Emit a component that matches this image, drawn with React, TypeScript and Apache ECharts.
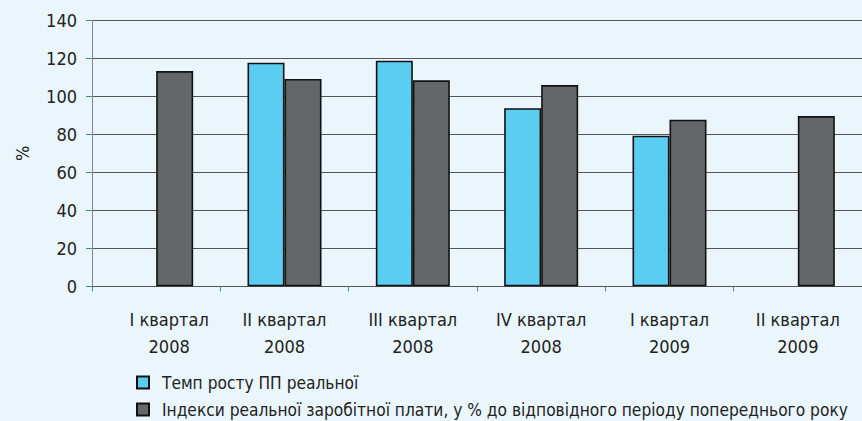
import React, { useEffect, useRef } from "react";
import * as echarts from "echarts";

const categories = [
  "I квартал\n2008",
  "II квартал\n2008",
  "III квартал\n2008",
  "IV квартал\n2008",
  "I квартал\n2009",
  "II квартал\n2009",
];
const growthPP = [null, 117.7, 118.7, 93.7, 79.3, null];
const wageIndex = [113.3, 109.1, 108.4, 105.9, 87.7, 89.6];
const seriesNames = [
  "Темп росту ПП реальної",
  "Індекси реальної заробітної плати, у % до відповідного періоду попереднього року",
];
const yTicks = { min: 0, max: 140, interval: 20 };

const FONT = '"DejaVu Sans Condensed", "Liberation Sans Narrow", sans-serif';

export default function App() {
  const ref = useRef<HTMLDivElement>(null);
  useEffect(() => {
    if (!ref.current) return;
    const chart = echarts.init(ref.current, null, { renderer: "svg" });
    const legendBase = {
      orient: "horizontal",
      left: 136,
      padding: 0,
      itemWidth: 12,
      itemHeight: 12,
      itemGap: 0,
      icon: "rect",
      textStyle: { fontFamily: FONT, fontSize: 17.2, color: "#222", padding: [0, 0, 0, 8] },
    };
    const labelStyle = { fontFamily: FONT, fontSize: 18, lineHeight: 27, color: "#222" };
    chart.setOption({
      animation: false,
      backgroundColor: "#EAF6FC",
      textStyle: { fontFamily: FONT },
      grid: { left: 92, top: 20.3, width: 776, height: 266 },
      legend: [
        { ...legendBase, top: 374, data: [seriesNames[0]] },
        { ...legendBase, top: 401, data: [seriesNames[1]] },
      ],
      xAxis: {
        type: "category",
        data: categories,
        axisLine: { lineStyle: { color: "#555", width: 1 } },
        axisTick: { show: true, length: 5, lineStyle: { color: "#3C8A9A" } },
        axisLabel: {
          ...labelStyle,
          margin: 20,
          interval: 0,
          formatter: (value: string, index: number) =>
            index === 0
              ? value
                  .split("\n")
                  .map((l) => `{first|${l}}`)
                  .join("\n")
              : value,
          rich: {
            first: { ...labelStyle, padding: [0, 0, 0, 26] },
          },
        },
      },
      yAxis: {
        type: "value",
        min: yTicks.min,
        max: yTicks.max,
        interval: yTicks.interval,
        name: "%",
        nameLocation: "middle",
        nameRotate: 90,
        nameGap: 61,
        nameTextStyle: { fontFamily: FONT, fontSize: 18, color: "#222" },
        axisLine: { show: true, lineStyle: { color: "#888", width: 1 } },
        axisTick: { show: true, length: 6, lineStyle: { color: "#3C8A9A" } },
        axisLabel: { fontFamily: FONT, fontSize: 18, color: "#222", margin: 15 },
        splitLine: { show: true, lineStyle: { color: "#555", width: 1 } },
      },
      series: [
        {
          name: seriesNames[0],
          type: "bar",
          data: growthPP,
          barWidth: 37,
          barGap: 0,
          itemStyle: { color: "#5BCDF1", borderColor: "#111", borderWidth: 1.6 },
        },
        {
          name: seriesNames[1],
          type: "bar",
          data: wageIndex,
          barWidth: 37,
          barGap: 0,
          itemStyle: { color: "#636767", borderColor: "#111", borderWidth: 1.6 },
        },
      ],
    });
    return () => chart.dispose();
  }, []);
  return (
    <div
      ref={ref}
      style={{ position: "absolute", left: 0, top: 0, width: 862, height: 421 }}
    />
  );
}
